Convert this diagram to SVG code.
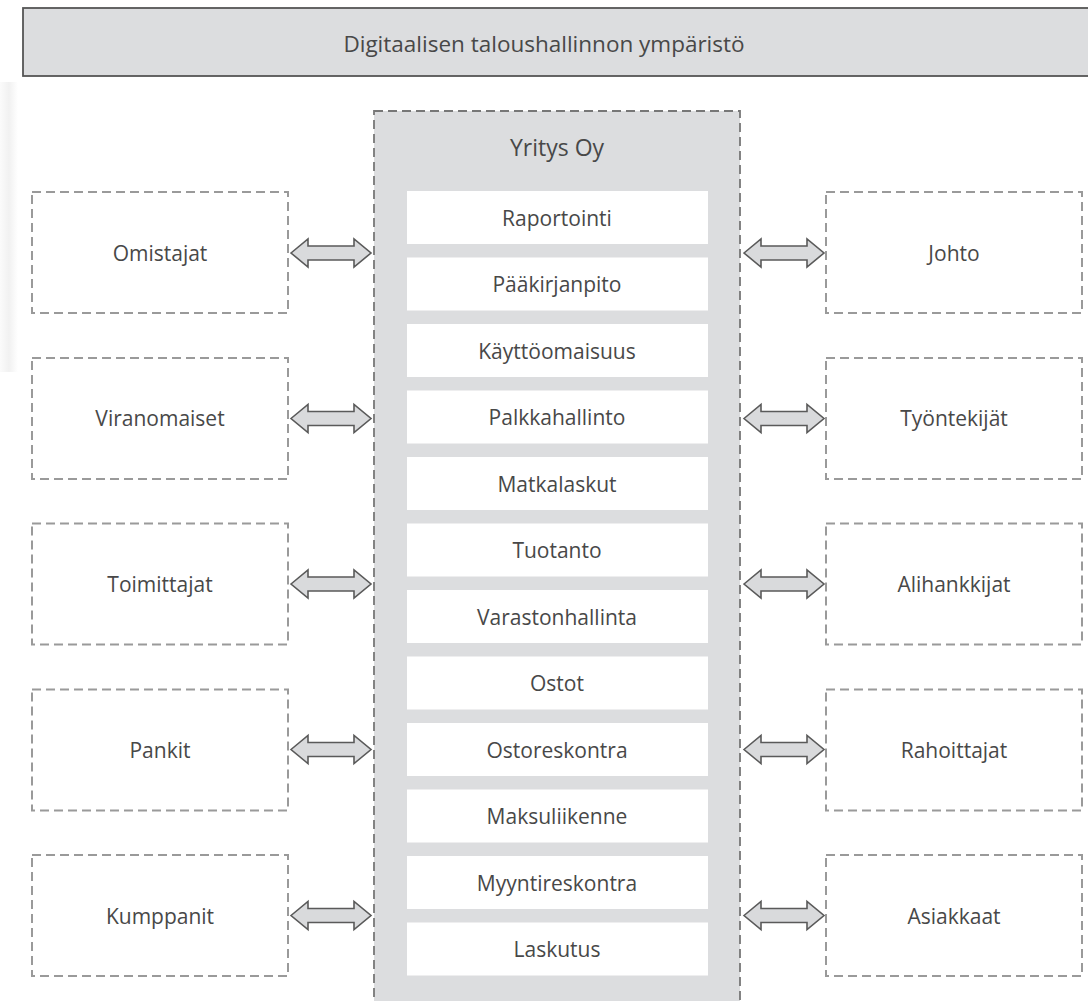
<svg xmlns="http://www.w3.org/2000/svg" width="1088" height="1001" viewBox="0 0 1088 1001">
<defs>
<style>
text{font-family:"Open Sans","Liberation Sans",sans-serif;font-size:21px;fill:#484848;text-anchor:middle;dominant-baseline:central}
.ext{fill:#fff;stroke:#9a9a9a;stroke-width:2;stroke-dasharray:9 5}
.mod{fill:#fff}
.arr{fill:#d9dadc;stroke:#5a5a5a;stroke-width:1.6;stroke-linejoin:miter}
</style>
<linearGradient id="sh" x1="0" y1="0" x2="1" y2="0">
<stop offset="0" stop-color="#fbfbfb"/>
<stop offset="0.5" stop-color="#f1f1f1"/>
<stop offset="1" stop-color="#ffffff"/>
</linearGradient>
<path id="dbl" class="arr" d="M0 0 L17 -14 L17 -7 L63 -7 L63 -14 L80 0 L63 14 L63 7 L17 7 L17 14 Z"/>
</defs>
<rect width="1088" height="1001" fill="#fff"/>
<rect x="0" y="82" width="18" height="290" fill="url(#sh)"/>
<g id="header">
<rect x="23" y="8" width="1080" height="68" fill="#dcdddf" stroke="#555" stroke-width="1.8"/>
<text x="544" y="43" style="font-size:22.5px">Digitaalisen taloushallinnon ympäristö</text>
</g>
<g id="yritys">
<rect x="374" y="111" width="366" height="910" fill="#dcdddf" stroke="#777" stroke-width="1.8" stroke-dasharray="9 5"/>
<text x="557" y="147" style="font-size:23px">Yritys Oy</text>
</g>
<g id="modules">
<g id="m-raportointi"><rect class="mod" x="407" y="191" width="301" height="53"/><text x="557" y="217.5">Raportointi</text></g>
<g id="m-paakirjanpito"><rect class="mod" x="407" y="257.5" width="301" height="53"/><text x="557" y="284">Pääkirjanpito</text></g>
<g id="m-kayttoomaisuus"><rect class="mod" x="407" y="324" width="301" height="53"/><text x="557" y="350.5">Käyttöomaisuus</text></g>
<g id="m-palkkahallinto"><rect class="mod" x="407" y="390.5" width="301" height="53"/><text x="557" y="417">Palkkahallinto</text></g>
<g id="m-matkalaskut"><rect class="mod" x="407" y="457" width="301" height="53"/><text x="557" y="483.5">Matkalaskut</text></g>
<g id="m-tuotanto"><rect class="mod" x="407" y="523.5" width="301" height="53"/><text x="557" y="550">Tuotanto</text></g>
<g id="m-varastonhallinta"><rect class="mod" x="407" y="590" width="301" height="53"/><text x="557" y="616.5">Varastonhallinta</text></g>
<g id="m-ostot"><rect class="mod" x="407" y="656.5" width="301" height="53"/><text x="557" y="683">Ostot</text></g>
<g id="m-ostoreskontra"><rect class="mod" x="407" y="723" width="301" height="53"/><text x="557" y="749.5">Ostoreskontra</text></g>
<g id="m-maksuliikenne"><rect class="mod" x="407" y="789.5" width="301" height="53"/><text x="557" y="816">Maksuliikenne</text></g>
<g id="m-myyntireskontra"><rect class="mod" x="407" y="856" width="301" height="53"/><text x="557" y="882.5">Myyntireskontra</text></g>
<g id="m-laskutus"><rect class="mod" x="407" y="922.5" width="301" height="53"/><text x="557" y="949">Laskutus</text></g>
</g>
<g id="omistajat"><rect class="ext" x="32" y="192" width="256" height="121"/><text x="160" y="252.5">Omistajat</text></g>
<g id="viranomaiset"><rect class="ext" x="32" y="358" width="256" height="121"/><text x="160" y="418">Viranomaiset</text></g>
<g id="toimittajat"><rect class="ext" x="32" y="523.5" width="256" height="121"/><text x="160" y="584">Toimittajat</text></g>
<g id="pankit"><rect class="ext" x="32" y="689.5" width="256" height="121"/><text x="160" y="750">Pankit</text></g>
<g id="kumppanit"><rect class="ext" x="32" y="855" width="256" height="121"/><text x="160" y="916">Kumppanit</text></g>
<g id="johto"><rect class="ext" x="826" y="192" width="256" height="121"/><text x="954" y="252.5">Johto</text></g>
<g id="tyontekijat"><rect class="ext" x="826" y="358" width="256" height="121"/><text x="954" y="418">Työntekijät</text></g>
<g id="alihankkijat"><rect class="ext" x="826" y="523.5" width="256" height="121"/><text x="954" y="584">Alihankkijat</text></g>
<g id="rahoittajat"><rect class="ext" x="826" y="689.5" width="256" height="121"/><text x="954" y="750">Rahoittajat</text></g>
<g id="asiakkaat"><rect class="ext" x="826" y="855" width="256" height="121"/><text x="954" y="916">Asiakkaat</text></g>
<g id="connectors">
<use href="#dbl" x="291" y="253"/>
<use href="#dbl" x="291" y="418.5"/>
<use href="#dbl" x="291" y="584"/>
<use href="#dbl" x="291" y="749.5"/>
<use href="#dbl" x="291" y="915.5"/>
<use href="#dbl" x="744" y="253"/>
<use href="#dbl" x="744" y="418.5"/>
<use href="#dbl" x="744" y="584"/>
<use href="#dbl" x="744" y="749.5"/>
<use href="#dbl" x="744" y="915.5"/>
</g>
</svg>
